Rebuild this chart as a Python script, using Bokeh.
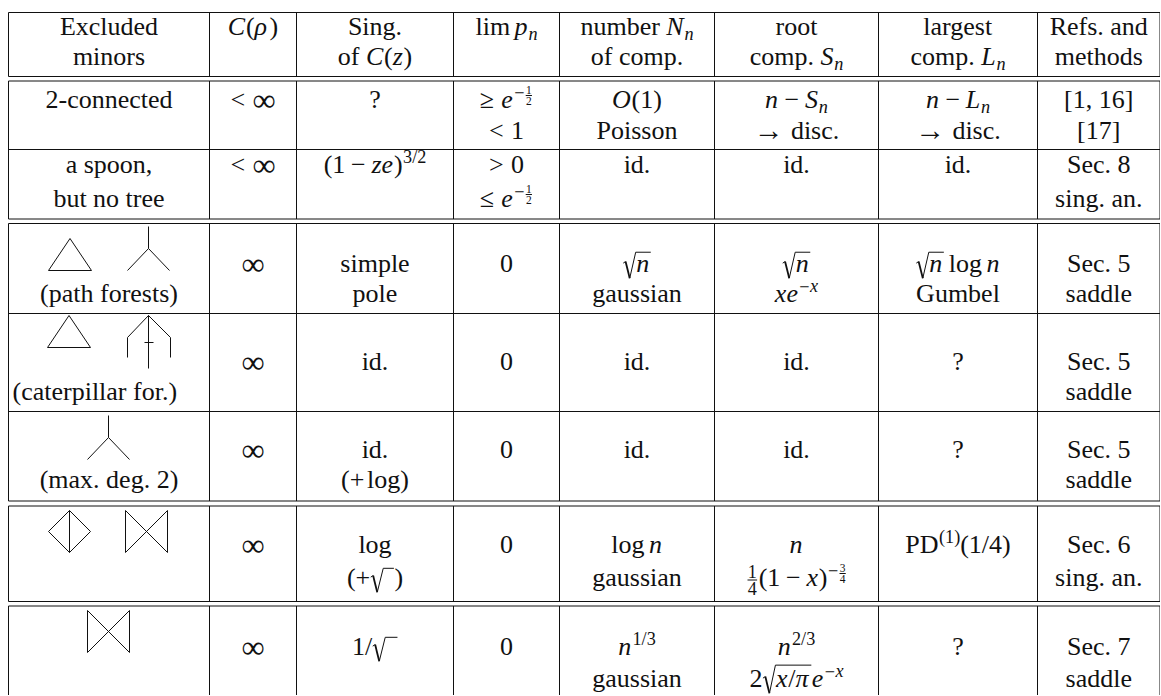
from bokeh.plotting import figure
from bokeh.models import Range1d, ColumnDataSource
from bokeh.embed import file_html
from bokeh.resources import INLINE
from bokeh.core.properties import value

FONT = "Liberation Serif"
FS = 26.0            # main font size (px)
SUPS = FS * 0.70     # script size
SSS = FS * 0.44      # scriptscript size
BASE_SHIFT = 0.34    # renderer places the glyph baseline this many em below the anchor

# ---------------- segment helpers (rich text cells) ----------------
def R(t): return ("r", t)
def I(t): return ("i", t)
def SP(e): return ("sp", e)
def SYM(t, k=1.25, drop=0.08): return ("sym", t, k, drop)
def SUP(t, it=False): return ("sup", t, it)
def SUB(t, it=True): return ("sub", t, it)
def SFRAC(n, d): return ("sfrac", n, d)
def TFRAC(n, d): return ("tfrac", n, d)
def SQRT(inner, minw=0.0, h=0.78): return ("sqrt", inner, minw, h)
def LEFT(x): return ("left", x)

INF = [SYM("\u221e")]
ARROW = [SYM("\u2192", 1.15, 0.0)]
ID = [R("id.")]
ZERO = [R("0")]
Q = [R("?")]
HALF_EXP = [I("e"), SUP("\u2212"), SFRAC("1", "2")]

# ---------------- table data ----------------
excluded_minors = [
    [[R("Excluded")], [R("minors")]],
    [[R("2-connected")]],
    [[R("a spoon,")], [R("but no tree")]],
    [[], [R("(path forests)")]],
    [[], [LEFT(12), R("(caterpillar for.)")]],
    [[], [R("(max. deg. 2)")]],
    [],
    [],
]
c_rho = [
    [[I("C"), R("("), I("\u03c1"), R(")")]],
    [[R("<"), SP(0.28)] + INF],
    [[R("<"), SP(0.28)] + INF],
    [INF], [INF], [INF], [INF], [INF],
]
sing_cz = [
    [[R("Sing.")], [R("of "), I("C"), R("("), I("z"), R(")")]],
    [Q],
    [[R("(1"), SP(0.22), R("\u2212"), SP(0.22), I("ze"), R(")"), SUP("3/2")]],
    [[R("simple")], [R("pole")]],
    [ID],
    [ID, [R("(+"), SP(0.1), R("log"), R(")")]],
    [[R("log")], [R("(+"), SQRT([], 0.36, 0.70), R(")")]],
    [[R("1/"), SQRT([], 0.42, 0.70)]],
]
lim_pn = [
    [[R("lim"), SP(0.17), I("p"), SUB("n")]],
    [[R("\u2265"), SP(0.28)] + HALF_EXP, [R("<"), SP(0.28), R("1")]],
    [[R(">"), SP(0.28), R("0")], [R("\u2264"), SP(0.28)] + HALF_EXP],
    [ZERO], [ZERO], [ZERO], [ZERO], [ZERO],
]
number_nn = [
    [[R("number "), I("N"), SUB("n")], [R("of comp.")]],
    [[I("O"), R("(1)")], [R("Poisson")]],
    [ID],
    [[SQRT([I("n")])], [R("gaussian")]],
    [ID],
    [ID],
    [[R("log"), SP(0.17), I("n")], [R("gaussian")]],
    [[I("n"), SUP("1/3")], [R("gaussian")]],
]
root_sn = [
    [[R("root")], [R("comp. "), I("S"), SUB("n")]],
    [[I("n"), SP(0.22), R("\u2212"), SP(0.22), I("S"), SUB("n")], ARROW + [SP(0.28), R("disc.")]],
    [ID],
    [[SQRT([I("n")])], [I("xe"), SUP("\u2212"), SUP("x", True)]],
    [ID],
    [ID],
    [[I("n")], [TFRAC("1", "4"), R("(1"), SP(0.22), R("\u2212"), SP(0.22), I("x"), R(")"),
                SUP("\u2212"), SFRAC("3", "4")]],
    [[I("n"), SUP("2/3")], [R("2"), SQRT([I("x"), R("/"), I("\u03c0")], 0.0, 0.86), I("e"),
                            SUP("\u2212"), SUP("x", True)]],
]
largest_ln = [
    [[R("largest")], [R("comp. "), I("L"), SUB("n")]],
    [[I("n"), SP(0.22), R("\u2212"), SP(0.22), I("L"), SUB("n")], ARROW + [SP(0.28), R("disc.")]],
    [ID],
    [[SQRT([I("n")]), SP(0.17), R("log"), SP(0.17), I("n")], [R("Gumbel")]],
    [Q],
    [Q],
    [[R("PD"), SUP("(1)"), R("(1/4)")]],
    [Q],
]
refs_methods = [
    [[R("Refs. and")], [R("methods")]],
    [[R("[1, 16]")], [R("[17]")]],
    [[R("Sec. 8")], [R("sing. an.")]],
    [[R("Sec. 5")], [R("saddle")]],
    [[R("Sec. 5")], [R("saddle")]],
    [[R("Sec. 5")], [R("saddle")]],
    [[R("Sec. 6")], [R("sing. an.")]],
    [[R("Sec. 7")], [R("saddle")]],
]
columns = [excluded_minors, c_rho, sing_cz, lim_pn, number_nn, root_sn, largest_ln, refs_methods]

# geometry of the table (page pixels)
col_edges = [8, 209, 296, 453, 559, 714, 878, 1037, 1159.5]
row_baselines = [(35, 65), (108, 139), (173, 207), (272, 302), (370, 400), (458, 488), (553, 586), (655, 687)]
hrules = [12, 76, 80.5, 149, 218.5, 223, 313, 411, 500.5, 505.5, 601, 605.5]
vblocks = [(12, 76), (80.5, 218.5), (223, 500.5), (505.5, 601), (605.5, 700)]

# small graph drawings of the excluded minors (local polylines)
SHAPES = {
    "triangle": [[(0, 32), (21.5, 0), (43, 32), (0, 32)]],
    "claw": [[(21, 0), (21, 22)], [(0, 44), (21, 22), (42, 44)]],
    "caterpillar": [[(21, 0), (21, 53)], [(0, 42), (0, 22), (21, 0), (43, 22), (43, 42)],
                    [(17, 27), (26, 27)]],
    "diamond": [[(0, 21), (21, 0), (42, 21), (21, 42), (0, 21)], [(21, 0), (21, 42)]],
    "bowtie": [[(0, 0), (0, 42), (42, 0), (42, 42), (0, 0)]],
}
icons = [("triangle", 48, 238), ("claw", 127, 226),
         ("triangle", 47, 315), ("caterpillar", 127, 315),
         ("claw", 87, 415),
         ("diamond", 48, 510), ("bowtie", 125, 510),
         ("bowtie", 87, 610)]

# ---------------- figure ----------------
W_PX, H_PX = 1160, 695
X0, X1 = 0.0, 1160.0
YB, YT = 695.0, 0.0
SX = W_PX / (X1 - X0)
SY = H_PX / (YB - YT)

ROMAN_W = {" ": 250, "!": 333, "(": 333, ")": 333, "+": 564, ",": 250, "-": 333, ".": 250, "/": 278,
           ":": 278, "<": 564, "=": 564, ">": 564, "?": 444, "[": 333, "]": 333,
           "A": 722, "B": 667, "C": 667, "D": 722, "E": 611, "F": 556, "G": 722, "H": 722, "I": 333,
           "J": 389, "K": 722, "L": 611, "M": 889, "N": 722, "O": 722, "P": 556, "Q": 722, "R": 667,
           "S": 556, "T": 611, "U": 722, "V": 722, "W": 944, "X": 722, "Y": 722, "Z": 611,
           "a": 444, "b": 500, "c": 444, "d": 500, "e": 444, "f": 333, "g": 500, "h": 500, "i": 278,
           "j": 278, "k": 500, "l": 278, "m": 778, "n": 500, "o": 500, "p": 500, "q": 500, "r": 333,
           "s": 389, "t": 278, "u": 500, "v": 500, "w": 722, "x": 500, "y": 500, "z": 444,
           "\u221e": 713, "\u2265": 549, "\u2264": 549, "\u2212": 564, "\u2192": 1000,
           "\u03c1": 549, "\u03c0": 549}
for d in "0123456789":
    ROMAN_W[d] = 500
ITALIC_W = dict(ROMAN_W)
ITALIC_W.update({"C": 667, "L": 556, "N": 667, "O": 722, "S": 500, "e": 444, "n": 500, "p": 500,
                 "x": 444, "z": 389})


def tw(t, italic, size):
    tab = ITALIC_W if italic else ROMAN_W
    return sum(tab.get(c, 500) for c in t) * size / 1000.0


def seg_w(s):
    k = s[0]
    if k == "r":
        return tw(s[1], False, FS)
    if k == "i":
        return tw(s[1], True, FS) + 0.03 * FS
    if k == "sym":
        return tw(s[1], False, FS * s[2])
    if k == "sp":
        return s[1] * FS
    if k == "sup":
        return tw(s[1], s[2], SUPS) + 0.02 * FS
    if k == "sub":
        return tw(s[1], s[2], SUPS)
    if k == "sfrac":
        return max(tw(s[1], False, SSS), tw(s[2], False, SSS)) + 0.12 * FS
    if k == "tfrac":
        return max(tw(s[1], False, SUPS), tw(s[2], False, SUPS)) + 0.14 * FS
    if k == "sqrt":
        return 0.52 * FS + max(sum(seg_w(q) for q in s[1]), s[2] * FS) + 0.05 * FS
    return 0.0


text_groups = {}
thin_xs, thin_ys, thick_xs, thick_ys = [], [], [], []


def ux(px):
    return px / SX


def uy(px):
    return px / SY


def add_text(x, y, t, size, italic):
    g = text_groups.setdefault((round(size, 2), italic), {"x": [], "y": [], "text": []})
    g["x"].append(x)
    g["y"].append(y - uy(BASE_SHIFT * size))
    g["text"].append(t)


def add_poly(pts, thick=False):
    (thick_xs if thick else thin_xs).append([p[0] for p in pts])
    (thick_ys if thick else thin_ys).append([p[1] for p in pts])


def emit_seg(s, x, base):
    k = s[0]
    w = seg_w(s)
    if k in ("r", "i"):
        add_text(x, base, s[1], FS, k == "i")
    elif k == "sym":
        add_text(x, base + uy(s[3] * FS), s[1], FS * s[2], False)
    elif k == "sup":
        add_text(x + ux(0.02 * FS), base - uy(0.38 * FS), s[1], SUPS, s[2])
    elif k == "sub":
        add_text(x, base + uy(0.17 * FS), s[1], SUPS, s[2])
    elif k == "sfrac":
        wn, wd = tw(s[1], False, SSS), tw(s[2], False, SSS)
        cx = x + ux(w / 2)
        bar = 0.50 * FS
        add_text(cx - ux(wn / 2), base - uy(bar + 2.0), s[1], SSS, False)
        add_text(cx - ux(wd / 2), base - uy(bar - 2.0 - 0.68 * SSS), s[2], SSS, False)
        add_poly([(x + ux(0.05 * FS), base - uy(bar)), (x + ux(w - 0.05 * FS), base - uy(bar))])
    elif k == "tfrac":
        wn, wd = tw(s[1], False, SUPS), tw(s[2], False, SUPS)
        cx = x + ux(w / 2)
        bar = 0.25 * FS
        add_text(cx - ux(wn / 2), base - uy(bar + 2.5), s[1], SUPS, False)
        add_text(cx - ux(wd / 2), base - uy(bar - 2.5 - 0.68 * SUPS), s[2], SUPS, False)
        add_poly([(x + ux(0.06 * FS), base - uy(bar)), (x + ux(w - 0.06 * FS), base - uy(bar))])
    elif k == "sqrt":
        inner_w = sum(seg_w(q) for q in s[1])
        body = max(inner_w, s[2] * FS)
        h = s[3]
        P = lambda ex, ey: (x + ux(ex * FS), base - uy(ey * FS))
        add_poly([P(0.02, 0.36), P(0.11, 0.42)])
        add_poly([P(0.11, 0.42), P(0.27, -0.22)], thick=True)
        add_poly([P(0.27, -0.22), P(0.50, h), (x + ux(0.50 * FS + body + 0.05 * FS), base - uy(h * FS))])
        xi = x + ux(0.52 * FS)
        for q in s[1]:
            xi = emit_seg(q, xi, base)
    return x + ux(w)


def emit_line(segs, cx, base):
    if not segs:
        return
    if segs[0][0] == "left":
        x = segs[0][1]
        segs = segs[1:]
    else:
        w = sum(seg_w(s) for s in segs)
        x = cx - ux(w) / 2
    for s in segs:
        x = emit_seg(s, x, base)


# cell texts
for ci, col in enumerate(columns):
    cx = (col_edges[ci] + col_edges[ci + 1]) / 2
    for ri, cell in enumerate(col):
        for li, line in enumerate(cell):
            emit_line(line, cx, row_baselines[ri][li])

# rules
for y in hrules:
    add_poly([(col_edges[0], y), (col_edges[-1], y)])
for (ya, yb) in vblocks:
    for xe in col_edges:
        add_poly([(xe, ya), (xe, yb)])

# icons
for name, ox, oy in icons:
    for poly in SHAPES[name]:
        add_poly([(ox + a, oy + b) for (a, b) in poly])

p = figure(width=W_PX, height=H_PX, x_range=Range1d(X0, X1), y_range=Range1d(YB, YT),
           output_backend="svg", toolbar_location=None, min_border=0,
           x_axis_location=None, y_axis_location=None, tools="")
p.grid.visible = False
p.outline_line_color = None
p.background_fill_color = "white"
p.border_fill_color = "white"

p.multi_line(xs=thin_xs, ys=thin_ys, line_color="#111111", line_width=1.0)
p.multi_line(xs=thick_xs, ys=thick_ys, line_color="#111111", line_width=1.8)

for (size, italic), g in text_groups.items():
    p.text(x="x", y="y", text="text", source=ColumnDataSource(g),
           text_font=value(FONT), text_font_size=f"{size}px",
           text_font_style="italic" if italic else "normal",
           text_align="left", text_baseline="alphabetic", text_color="#111111")

open("out.html", "w").write(file_html(p, INLINE))
